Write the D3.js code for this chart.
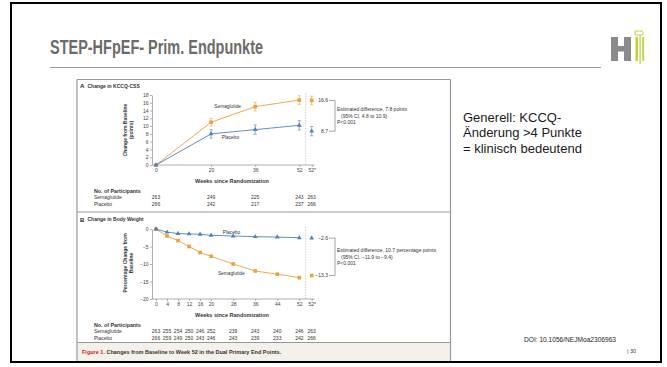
<!DOCTYPE html>
<html>
<head>
<meta charset="utf-8">
<script src="https://cdn.jsdelivr.net/npm/d3@7"></script>
<style>
body { margin: 0; background: #fff; }
svg { display: block; font-family: Arial, "Liberation Sans", sans-serif; }
.axis path, .axis line { stroke: #8c8c8c; stroke-width: 0.7; }
.axis text { font-size: 5px; fill: #444; }
.small { font-size: 5px; fill: #333; }
.bold { font-weight: bold; }
</style>
</head>
<body>
<svg id="slide" width="667" height="367"></svg>
<script>
// panel A: KCCQ-CSS
var kccqWeeks = [0, 20, 36, 52];
var kccqSema = [0, 11.0, 15.0, 16.7];
var kccqSemaErr = [0, 1.0, 1.1, 1.1];
var kccqPlacebo = [0, 8.0, 9.1, 10.2];
var kccqPlaceboErr = [0, 1.1, 1.2, 1.2];
var kccqFinal = [16.6, 8.7];
var kccqFinalErr = [1.1, 1.2];
var kccqTicks = [0, 2, 4, 6, 8, 10, 12, 14, 16, 18];
var kccqSemaN = [263, 249, 225, 243, 263];
var kccqPlaceboN = [266, 242, 217, 237, 266];
var kccqNote = ['Estimated difference, 7.8 points', '(95% CI, 4.8 to 10.9)', 'P<0.001'];

// panel B: body weight
var weightWeeks = [0, 4, 8, 12, 16, 20, 28, 36, 44, 52];
var weightSema = [0, -2.0, -3.3, -5.0, -6.7, -7.8, -10.0, -12.0, -12.9, -13.9];
var weightPlacebo = [0, -0.9, -1.3, -1.4, -1.5, -1.8, -2.0, -2.2, -2.3, -2.5];
var weightFinal = [-13.3, -2.6];
var weightTicks = [0, -5, -10, -15, -20];
var weightSemaN = [263, 255, 254, 250, 246, 252, 239, 243, 240, 246, 263];
var weightPlaceboN = [266, 259, 249, 250, 243, 246, 243, 239, 233, 242, 266];
var weightNote = ['Estimated difference, 10.7 percentage points', '(95% CI, \u221211.9 to \u22129.4)', 'P<0.001'];

var notes = ['Generell: KCCQ-', '\u00c4nderung >4 Punkte', '= klinisch bedeutend'];

var orange = '#e9a23b';
var blue = '#4f81bd';
var finalWeek = 56.5;
var splitWeek = 54.3;

var svg = d3.select('#slide');
var xScale = d3.scaleLinear().domain([0, 52]).range([156, 299.3]);

const Slide = {
	init: function() {
		// outer frame
		svg.append('rect')
			.attr('x', 11).attr('y', 3).attr('width', 650).attr('height', 359)
			.attr('fill', '#fff').attr('stroke', '#000').attr('stroke-width', 2);

		svg.append('text')
			.attr('x', 50).attr('y', 54)
			.attr('textLength', 213).attr('lengthAdjust', 'spacingAndGlyphs')
			.style('font-size', '20px').style('font-weight', 'bold').style('fill', '#6b6b6b')
			.text('STEP-HFpEF- Prim. Endpunkte');
		svg.append('line')
			.attr('x1', 50).attr('x2', 601).attr('y1', 67.5).attr('y2', 67.5)
			.attr('stroke', '#9a9a9a').attr('stroke-width', 1);

		// logo
		var logo = svg.append('g').attr('transform', 'translate(4,0)');
		logo.append('rect').attr('x', 607).attr('y', 37).attr('width', 7).attr('height', 24).attr('fill', '#8a8a8a');
		logo.append('rect').attr('x', 620).attr('y', 37).attr('width', 7).attr('height', 24).attr('fill', '#8a8a8a');
		logo.append('rect').attr('x', 613).attr('y', 46).attr('width', 8).attr('height', 5.5).attr('fill', '#8a8a8a');
		logo.append('rect').attr('x', 631.5).attr('y', 37).attr('width', 2.5).attr('height', 24).attr('fill', '#bcd53a');
		logo.append('rect').attr('x', 635.5).attr('y', 35).attr('width', 1.2).attr('height', 29).attr('fill', '#bcd53a');
		logo.append('rect').attr('x', 638.3).attr('y', 37).attr('width', 1.8).attr('height', 24).attr('fill', '#bcd53a');
		logo.append('path').attr('d', 'M631,31 h7 l1.5,2 l-1.5,2 h-7 z')
			.attr('fill', 'none').attr('stroke', '#bcd53a').attr('stroke-width', 1);

		svg.selectAll('.note').data(notes).enter()
			.append('text').attr('class', 'note')
			.attr('x', 463)
			.attr('y', function(d, i) { return 121.5 + i * 15.8 })
			.style('font-size', '13px').style('fill', '#1a1a1a')
			.text(function(d) { return d });

		svg.append('text').attr('x', 524).attr('y', 341.5)
			.style('font-size', '6.6px').style('fill', '#222')
			.text('DOI: 10.1056/NEJMoa2306963');
		svg.append('text').attr('x', 627).attr('y', 352.5)
			.style('font-size', '5.5px').style('fill', '#444')
			.text('| 30');
	},
	figureBox: function() {
		var g = svg.append('g');
		g.append('rect').attr('x', 77).attr('y', 342.5).attr('width', 373.5).attr('height', 18.5).attr('fill', '#f4f0ea');
		g.append('line').attr('x1', 77).attr('x2', 450.5).attr('y1', 79.5).attr('y2', 79.5).attr('stroke', '#999').attr('stroke-width', 1.2);
		g.append('line').attr('x1', 77).attr('x2', 77).attr('y1', 79.5).attr('y2', 361).attr('stroke', '#999').attr('stroke-width', 1.2);
		g.append('line').attr('x1', 450.5).attr('x2', 450.5).attr('y1', 79.5).attr('y2', 361).attr('stroke', '#999').attr('stroke-width', 1.2);
		g.append('line').attr('x1', 77).attr('x2', 450.5).attr('y1', 212).attr('y2', 212).attr('stroke', '#999').attr('stroke-width', 1.2);
		g.append('line').attr('x1', 77).attr('x2', 450.5).attr('y1', 342.5).attr('y2', 342.5).attr('stroke', '#999').attr('stroke-width', 1.2);

		var cap = g.append('text').attr('x', 82).attr('y', 352).attr('dy', '0.35em')
			.attr('class', 'small bold').style('font-size', '5.5px');
		cap.append('tspan').style('fill', '#c8282e').text('Figure 1. ');
		cap.append('tspan').style('fill', '#333').text('Changes from Baseline to Week 52 in the Dual Primary End Points.');
	}
};

function drawPanel(p) {
	var g = svg.append('g');
	var yScale = d3.scaleLinear().domain(p.yDomain).range(p.yRange);
	var axisY = p.yRange[0];

	// panel heading
	g.append('text').attr('x', 80).attr('y', p.headY).attr('dy', '0.35em')
		.attr('class', 'bold').style('font-size', '6px').style('fill', '#222').text(p.letter);
	g.append('text').attr('x', 87.5).attr('y', p.headY).attr('dy', '0.35em')
		.attr('class', 'small bold').text(p.heading);

	// week-52 separator
	g.append('line')
		.attr('x1', xScale(splitWeek)).attr('x2', xScale(splitWeek))
		.attr('y1', p.yRange[1] - 2).attr('y2', axisY)
		.attr('stroke', '#bbb').attr('stroke-width', 0.7).attr('stroke-dasharray', '1.5,1.2');

	// axes
	var xAxis = d3.axisBottom(xScale)
		.tickValues(p.weeks.concat([finalWeek]))
		.tickSize(2).tickSizeOuter(0).tickPadding(1.5)
		.tickFormat(function(d) { return d === finalWeek ? '52*' : d });
	var gx = g.append('g').attr('class', 'axis')
		.attr('transform', 'translate(0,' + axisY + ')')
		.call(xAxis);
	gx.select('.domain').remove();
	g.append('line')
		.attr('x1', 152).attr('x2', xScale(finalWeek) + 3)
		.attr('y1', axisY).attr('y2', axisY)
		.attr('stroke', '#8c8c8c').attr('stroke-width', 0.7);

	var yAxis = d3.axisLeft(yScale)
		.tickValues(p.yTicks)
		.tickSize(2).tickSizeOuter(0).tickPadding(1.5)
		.tickFormat(function(d) { return d < 0 ? '\u2212' + Math.abs(d) : d });
	g.append('g').attr('class', 'axis')
		.attr('transform', 'translate(152,0)')
		.call(yAxis);

	// y title
	var yTitle = g.append('g')
		.attr('transform', 'translate(' + 125 + ',' + p.yTitleY + ') rotate(-90)');
	yTitle.selectAll('text').data(p.yTitle).enter()
		.append('text').attr('class', 'small bold')
		.attr('x', 0).attr('y', function(d, i) { return i * 6 })
		.attr('dy', '0.35em').attr('text-anchor', 'middle')
		.text(function(d) { return d });

	g.append('text').attr('class', 'small bold')
		.attr('x', 232).attr('y', axisY + 15.8).attr('dy', '0.35em')
		.attr('text-anchor', 'middle').style('font-size', '5.5px')
		.text('Weeks since Randomization');

	// series
	var line = d3.line()
		.x(function(d) { return xScale(d[0]) })
		.y(function(d) { return yScale(d[1]) });

	var series = [
		{ vals: p.sema, err: p.semaErr, final: p.final[0], finalErr: p.finalErr[0], color: orange, shape: 'square' },
		{ vals: p.placebo, err: p.placeboErr, final: p.final[1], finalErr: p.finalErr[1], color: blue, shape: 'triangle' }
	];

	series.forEach(function(s) {
		var pts = d3.zip(p.weeks, s.vals, s.err);
		var finalPt = [finalWeek, s.final, s.finalErr];

		g.append('path').datum(pts)
			.attr('d', line).attr('fill', 'none')
			.attr('stroke', s.color).attr('stroke-width', 0.9);

		var withErr = pts.concat([finalPt]).filter(function(d) { return d[2] > 0 });
		var eb = g.selectAll(null).data(withErr).enter().append('g')
			.attr('stroke', s.color).attr('stroke-width', 0.6);
		eb.append('line')
			.attr('x1', function(d) { return xScale(d[0]) })
			.attr('x2', function(d) { return xScale(d[0]) })
			.attr('y1', function(d) { return yScale(d[1] - d[2]) })
			.attr('y2', function(d) { return yScale(d[1] + d[2]) });
		[-1, 1].forEach(function(sign) {
			eb.append('line')
				.attr('x1', function(d) { return xScale(d[0]) - 1.6 })
				.attr('x2', function(d) { return xScale(d[0]) + 1.6 })
				.attr('y1', function(d) { return yScale(d[1] + sign * d[2]) })
				.attr('y2', function(d) { return yScale(d[1] + sign * d[2]) });
		});

		var symbol = d3.symbol()
			.type(s.shape === 'square' ? d3.symbolSquare : d3.symbolTriangle)
			.size(s.shape === 'square' ? 13 : 10);
		g.selectAll(null).data(pts.concat([finalPt])).enter()
			.append('path')
			.attr('d', symbol)
			.attr('transform', function(d) { return 'translate(' + xScale(d[0]) + ',' + yScale(d[1]) + ')' })
			.attr('fill', s.color);
	});

	// series labels
	p.labels.forEach(function(l) {
		g.append('text').attr('class', 'small')
			.attr('x', xScale(l[1])).attr('y', yScale(l[2])).attr('dy', '0.35em')
			.attr('text-anchor', 'middle').style('font-size', '4.8px')
			.text(l[0]);
	});

	// estimate bracket
	var yA = yScale(p.final[0]);
	var yB = yScale(p.final[1]);
	g.append('path')
		.attr('d', 'M329,' + yA + 'H335V' + yB + 'H329')
		.attr('fill', 'none').attr('stroke', '#666').attr('stroke-width', 0.6);
	g.selectAll(null).data(p.final).enter()
		.append('text').attr('class', 'small')
		.attr('x', 328).attr('y', function(d) { return yScale(d) }).attr('dy', '0.35em')
		.attr('text-anchor', 'end')
		.text(function(d) { return d < 0 ? '\u2212' + Math.abs(d) : d });
	var mid = (yA + yB) / 2;
	g.selectAll(null).data(p.note).enter()
		.append('text').attr('class', 'small')
		.attr('x', function(d, i) { return i === 1 ? 341 : 337 })
		.attr('y', function(d, i) { return mid + (i - 1) * 6.3 }).attr('dy', '0.35em')
		.text(function(d) { return d });

	// participants
	var nTop = axisY + 26;
	g.append('text').attr('class', 'small bold')
		.attr('x', 94).attr('y', nTop).attr('dy', '0.35em').style('font-size', '5.3px')
		.text('No. of Participants');
	var rows = [['Semaglutide', p.semaN], ['Placebo', p.placeboN]];
	var nWeeks = p.weeks.concat([finalWeek]);
	rows.forEach(function(r, i) {
		var ry = nTop + 6.6 + i * 6.2;
		g.append('text').attr('class', 'small')
			.attr('x', 94).attr('y', ry).attr('dy', '0.35em')
			.text(r[0]);
		g.selectAll(null).data(r[1]).enter()
			.append('text').attr('class', 'small')
			.attr('x', function(d, j) { return xScale(nWeeks[j]) })
			.attr('y', ry).attr('dy', '0.35em')
			.attr('text-anchor', 'middle')
			.text(function(d) { return d });
	});
}

Slide.init();
Slide.figureBox();

drawPanel({
	letter: 'A', heading: 'Change in KCCQ-CSS', headY: 86,
	yDomain: [0, 18], yRange: [165, 95], yTicks: kccqTicks,
	yTitle: ['Change from Baseline', '(points)'], yTitleY: 130,
	weeks: kccqWeeks, sema: kccqSema, semaErr: kccqSemaErr,
	placebo: kccqPlacebo, placeboErr: kccqPlaceboErr,
	final: kccqFinal, finalErr: kccqFinalErr,
	labels: [['Semaglutide', 26, 15], ['Placebo', 27, 7.2]],
	note: kccqNote, semaN: kccqSemaN, placeboN: kccqPlaceboN
});

drawPanel({
	letter: 'B', heading: 'Change in Body Weight', headY: 219.7,
	yDomain: [-20, 0], yRange: [299, 229], yTicks: weightTicks,
	yTitle: ['Percentage Change from', 'Baseline'], yTitleY: 263,
	weeks: weightWeeks, sema: weightSema, semaErr: weightSema.map(function() { return 0 }),
	placebo: weightPlacebo, placeboErr: weightPlacebo.map(function() { return 0 }),
	final: weightFinal, finalErr: [0, 0],
	labels: [['Semaglutide', 27.3, -12.7], ['Placebo', 27.4, -1.05]],
	note: weightNote, semaN: weightSemaN, placeboN: weightPlaceboN
});
</script>
</body>
</html>
